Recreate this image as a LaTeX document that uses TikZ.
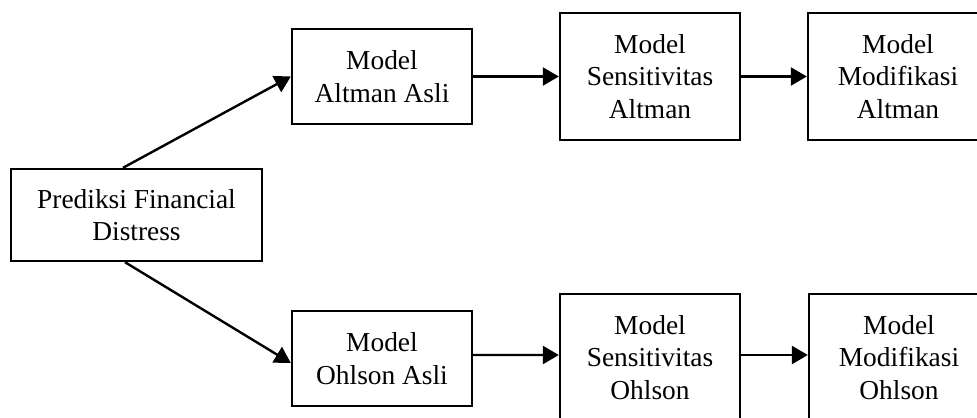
\documentclass[tikz,border=0pt]{standalone}
\usepackage{fontspec}
\setmainfont{Liberation Serif}
\usetikzlibrary{arrows.meta}
\tikzset{
  kotak/.style={draw, line width=0.048cm, align=center, inner sep=0pt,
    minimum width=3.6cm, font=\fontsize{15.6pt}{18.4pt}\selectfont},
  panah/.style={-{Triangle[length=0.32cm,width=0.36cm]}, line width=0.048cm}
}
\begin{document}
\begin{tikzpicture}[x=0.02cm,y=-0.02cm]
	\useasboundingbox (0,0) rectangle (977,418);
	\clip (0,0) rectangle (977,418);
	\node[kotak, minimum width=5.02cm, minimum height=1.84cm] (prediksi) at (136.5,215) {Prediksi Financial\\Distress};
	\node[kotak, minimum height=1.9cm] (altman) at (382,76.5) {Model\\Altman Asli};
	\node[kotak, minimum height=2.54cm] (sensaltman) at (650,76.5) {Model\\Sensitivitas\\Altman};
	\node[kotak, minimum height=2.54cm] (modaltman) at (898,76.5) {Model\\Modifikasi\\Altman};
	\node[kotak, minimum height=1.9cm] (ohlson) at (382,358.5) {Model\\Ohlson Asli};
	\node[kotak, minimum height=2.54cm] (sensohlson) at (650,357.5) {Model\\Sensitivitas\\Ohlson};
	\node[kotak, minimum height=2.54cm] (modohlson) at (899,357.5) {Model\\Modifikasi\\Ohlson};
	\draw[panah] ([xshift=-0.27cm]prediksi.north) -- (altman.west);
	\draw[panah] ([xshift=-0.23cm]prediksi.south) -- ([yshift=-0.09cm]ohlson.west);
	\draw[panah] (altman.east) -- (sensaltman.west);
	\draw[panah] (sensaltman.east) -- (modaltman.west);
	\draw[panah] ([yshift=0.07cm]ohlson.east) -- ([yshift=0.05cm]sensohlson.west);
	\draw[panah] ([yshift=0.05cm]sensohlson.east) -- ([yshift=0.05cm]modohlson.west);
\end{tikzpicture}
\end{document}
